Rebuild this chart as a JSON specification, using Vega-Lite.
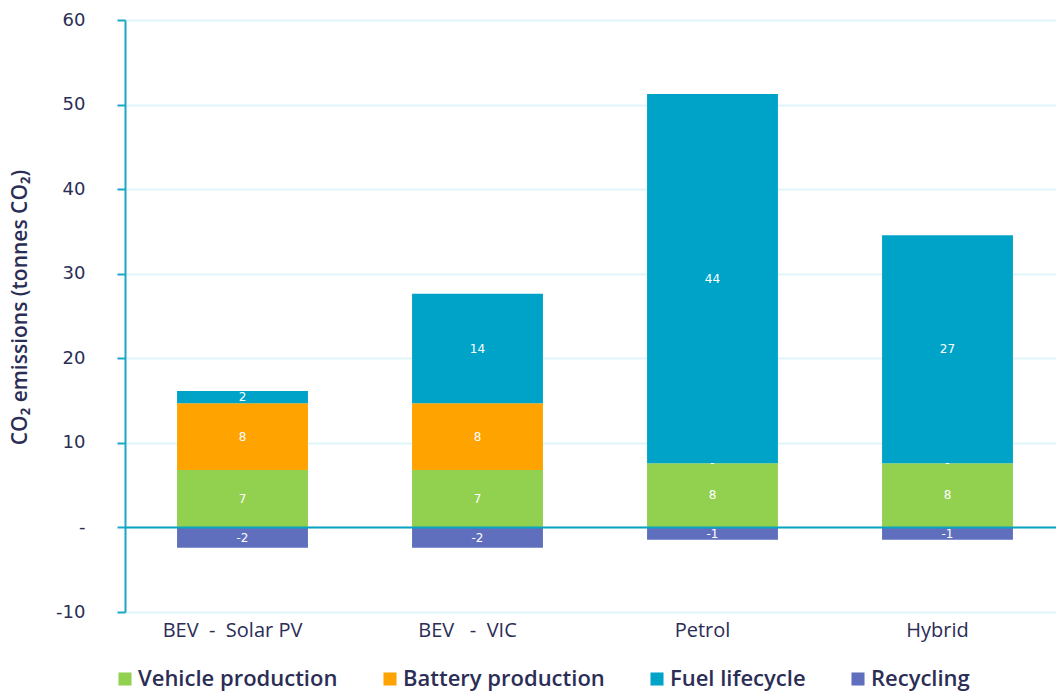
{
  "$schema": "https://vega.github.io/schema/vega-lite/v6.json",
  "width": 940,
  "height": 592,
  "autosize": {"type": "none"},
  "padding": {"left": 125, "top": 20, "right": 0, "bottom": 81},
  "background": "white",
  "config": {"view": {"stroke": null}, "font": "DejaVu Sans"},
  "data": {
    "values": [
      {"vehicle": "BEV\u00a0 -\u00a0 Solar PV", "category": "Vehicle production", "value": 6.78, "label": "7"},
      {"vehicle": "BEV\u00a0 -\u00a0 Solar PV", "category": "Battery production", "value": 7.89, "label": "8"},
      {"vehicle": "BEV\u00a0 -\u00a0 Solar PV", "category": "Fuel lifecycle", "value": 1.45, "label": "2"},
      {"vehicle": "BEV\u00a0 -\u00a0 Solar PV", "category": "Recycling", "value": -2.41, "label": "-2"},
      {"vehicle": "BEV\u00a0\u00a0 -\u00a0 VIC", "category": "Vehicle production", "value": 6.78, "label": "7"},
      {"vehicle": "BEV\u00a0\u00a0 -\u00a0 VIC", "category": "Battery production", "value": 7.89, "label": "8"},
      {"vehicle": "BEV\u00a0\u00a0 -\u00a0 VIC", "category": "Fuel lifecycle", "value": 12.95, "label": "14"},
      {"vehicle": "BEV\u00a0\u00a0 -\u00a0 VIC", "category": "Recycling", "value": -2.41, "label": "-2"},
      {"vehicle": "Petrol", "category": "Vehicle production", "value": 7.6, "label": "8"},
      {"vehicle": "Petrol", "category": "Battery production", "value": 0, "label": "-"},
      {"vehicle": "Petrol", "category": "Fuel lifecycle", "value": 43.64, "label": "44"},
      {"vehicle": "Petrol", "category": "Recycling", "value": -1.46, "label": "-1"},
      {"vehicle": "Hybrid", "category": "Vehicle production", "value": 7.6, "label": "8"},
      {"vehicle": "Hybrid", "category": "Battery production", "value": 0, "label": "-"},
      {"vehicle": "Hybrid", "category": "Fuel lifecycle", "value": 26.96, "label": "27"},
      {"vehicle": "Hybrid", "category": "Recycling", "value": -1.46, "label": "-1"}
    ]
  },
  "transform": [
    {"calculate": "indexof(['Recycling','Vehicle production','Battery production','Fuel lifecycle'], datum.category)", "as": "ord"},
    {"stack": "value", "groupby": ["vehicle"], "sort": [{"field": "ord", "order": "ascending"}], "as": ["v0", "v1"]},
    {"calculate": "(datum.v0 + datum.v1) / 2", "as": "mid"}
  ],
  "encoding": {
    "x": {
      "field": "vehicle",
      "type": "nominal",
      "sort": null,
      "scale": {"paddingInner": 0.443, "paddingOuter": 0.2215},
      "axis": {
        "title": null,
        "labelAngle": 0,
        "domain": false,
        "ticks": false,
        "grid": false,
        "labelFont": "Open Sans",
        "labelFontSize": 20,
        "labelColor": "#2b2d55",
        "labelPadding": 8,
        "labelOffset": -10
      }
    }
  },
  "layer": [
    {
      "mark": {"type": "bar"},
      "encoding": {
        "y": {
          "field": "v0",
          "type": "quantitative",
          "scale": {"domain": [-10, 60], "nice": false, "zero": false},
          "axis": {
            "values": [-10, 0, 10, 20, 30, 40, 50, 60],
            "labelExpr": "datum.value == 0 ? '-' : '' + datum.value",
            "title": "CO\u2082 emissions (tonnes CO\u2082)",
            "titleFont": "Open Sans",
            "titleFontSize": 21,
            "titleFontWeight": 600,
            "titleColor": "#2b2d55",
            "titleX": -105,
            "titleY": 287,
            "titleBaseline": "middle",
            "titleAngle": -90,
            "labelFontSize": 18,
            "labelColor": "#2b2d55",
            "labelPadding": 32,
            "domainColor": "#1aa7c6",
            "domainWidth": 2,
            "tickColor": "#1aa7c6",
            "tickSize": 8,
            "tickWidth": 2,
            "gridColor": "#dff5fa",
            "gridWidth": 2
          }
        },
        "y2": {"field": "v1"},
        "color": {
          "field": "category",
          "type": "nominal",
          "scale": {
            "domain": ["Vehicle production", "Battery production", "Fuel lifecycle", "Recycling"],
            "range": ["#92d050", "#ffa300", "#00a3c8", "#5f6fbe"]
          },
          "legend": {
            "orient": "none",
            "legendX": -11,
            "legendY": 648,
            "direction": "horizontal",
            "title": null,
            "symbolType": "square",
            "symbolSize": 170,
            "symbolStrokeWidth": 0,
            "labelFont": "Open Sans",
            "labelFontSize": 22,
            "labelFontWeight": 600,
            "labelColor": "#2b2d55",
            "labelOffset": 2,
            "columnPadding": 41,
            "labelLimit": 400
          }
        }
      }
    },
    {
      "data": {"values": [{"zero": 0}]},
      "mark": {"type": "rule", "color": "#0aa3c2", "strokeWidth": 2},
      "encoding": {"y": {"field": "zero", "type": "quantitative"}, "x": null}
    },
    {
      "mark": {"type": "text", "color": "white", "fontSize": 12},
      "encoding": {
        "y": {"field": "mid", "type": "quantitative"},
        "text": {"field": "label"}
      }
    }
  ]
}
